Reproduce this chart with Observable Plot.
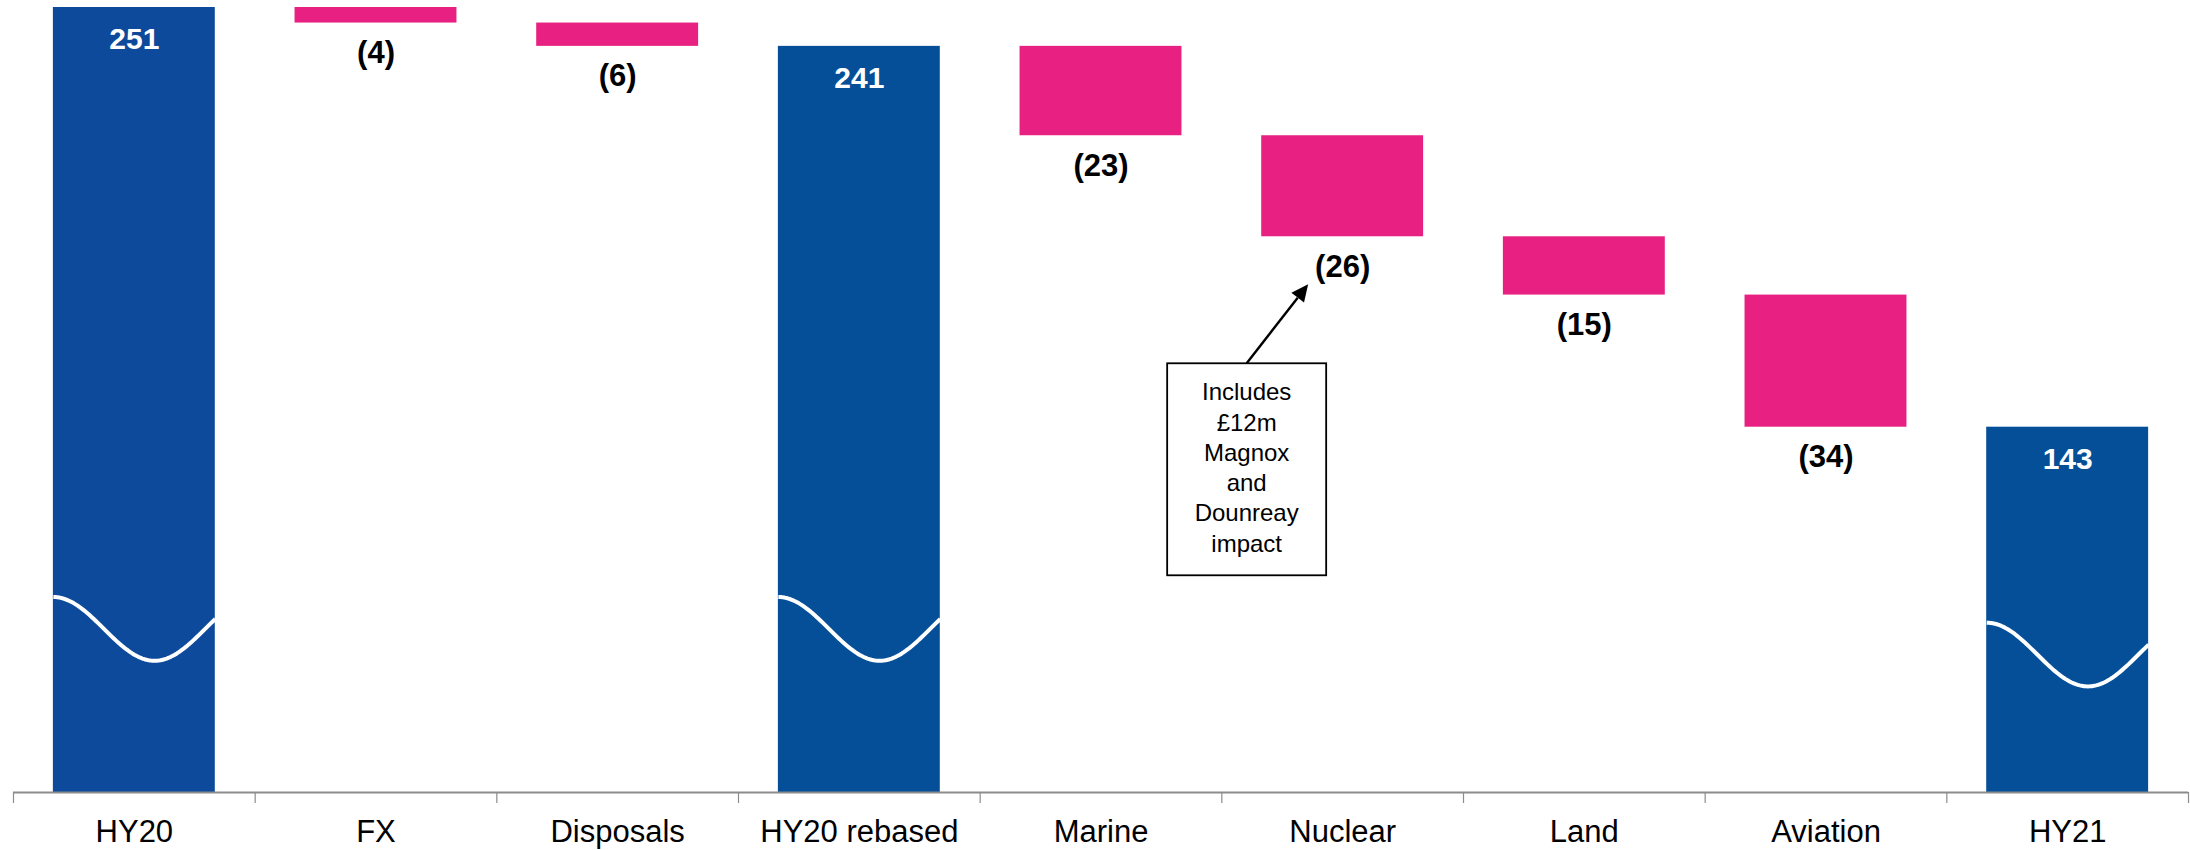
<!DOCTYPE html>
<html>
<head>
<meta charset="utf-8">
<script src="https://cdn.jsdelivr.net/npm/d3@7"></script>
<script src="https://cdn.jsdelivr.net/npm/@observablehq/plot@0.6"></script>
<style>
  html, body { margin: 0; padding: 0; background: #fff; overflow: hidden; }
  #chart svg { display: block; }
</style>
</head>
<body>
<div id="chart"></div>
<script>
// ---- Data ----
const categories = ["HY20", "FX", "Disposals", "HY20 rebased", "Marine", "Nuclear", "Land", "Aviation", "HY21"];
const changes = [251, -4, -6, 241, -23, -26, -15, -34, 143];
const isTotal = [true, false, false, true, false, false, false, false, true];
const valueLabels = ["251", "(4)", "(6)", "241", "(23)", "(26)", "(15)", "(34)", "143"];
// broken axis: the value axis starts above zero
const axisFloor = 49;
const axisTop = 251;
// break marks (wavy lines) on total bars, at these value levels
const breakCategories = ["HY20", "HY20 rebased", "HY21"];
const breakLevels = [91.1, 91.1, 84.5];
const breakAmplitude = 8.2;
// annotation
const noteCategory = "Nuclear";
const noteLines = ["Includes", "£12m", "Magnox", "and", "Dounreay", "impact"];

// ---- Build waterfall table ----
let running = 0;
const bars = categories.map((c, i) => {
  let lo, hi;
  if (isTotal[i]) { running = changes[i]; lo = axisFloor; hi = changes[i]; }
  else { hi = running; running += changes[i]; lo = running; }
  return {i, category: c, lo, hi, total: isTotal[i], label: valueLabels[i]};
});

const BAR_HALF = 0.335;
const WAVE_PHASE = 1.6 * Math.PI;
const wave = [];
breakCategories.forEach((c, k) => {
  const i = categories.indexOf(c);
  const n = 80;
  for (let j = 0; j <= n; j++) {
    const t = j / n;
    wave.push({cat: c, x: i - BAR_HALF + 2 * BAR_HALF * t, y: breakLevels[k] + breakAmplitude * Math.cos(WAVE_PHASE * t)});
  }
});

const boundaries = d3.range(categories.length + 1).map(k => k - 0.5);

function noteMark(index, scales, values, dimensions, context) {
  if (!scales || typeof scales.x !== "function") return null;
  const k = categories.indexOf(noteCategory);
  const b = bars[k];
  const cx = scales.x(k), by = scales.y(b.lo);
  const g = d3.create("svg:g");
  const boxL = cx - 175, boxR = cx - 16, boxT = by + 127, boxB = by + 339;
  g.append("rect")
    .attr("x", boxL).attr("y", boxT)
    .attr("width", boxR - boxL).attr("height", boxB - boxT)
    .attr("fill", "white").attr("stroke", "black").attr("stroke-width", 1.8);
  const tx = (boxL + boxR) / 2;
  const text = g.append("text")
    .attr("text-anchor", "middle").attr("font-size", 24).attr("fill", "black");
  noteLines.forEach((l, j) => text.append("tspan").attr("x", tx).attr("y", boxT + 37 + j * 30.3).text(l));
  // arrow
  const x0 = tx, y0 = boxT, x1 = cx - 34, y1 = by + 48;
  const dx = x1 - x0, dy = y1 - y0, len = Math.hypot(dx, dy);
  const ux = dx / len, uy = dy / len;
  const head = 17, hw = 8;
  const bx = x1 - ux * head, byy = y1 - uy * head;
  g.append("line").attr("x1", x0).attr("y1", y0).attr("x2", bx).attr("y2", byy)
    .attr("stroke", "black").attr("stroke-width", 2.4);
  g.append("polygon")
    .attr("points", [[x1, y1], [bx - uy * hw, byy + ux * hw], [bx + uy * hw, byy - ux * hw]].map(p => p.join(",")).join(" "))
    .attr("fill", "black");
  return g.node();
}

const font = "'Liberation Sans', Arial, Helvetica, sans-serif";

const chart = Plot.plot({
  width: 2190,
  height: 850,
  marginTop: 7,
  marginBottom: 58,
  marginLeft: 13,
  marginRight: 2,
  x: {type: "linear", domain: [-0.5, categories.length - 0.5], axis: null},
  y: {domain: [axisFloor, axisTop], axis: null},
  style: {fontFamily: font, background: "#fff", overflow: "visible"},
  marks: [
    Plot.rect(bars.filter(d => d.total && d.i === 0), {x1: d => d.i - BAR_HALF, x2: d => d.i + BAR_HALF, y1: "lo", y2: "hi", fill: "#0d4a9c"}),
    Plot.rect(bars.filter(d => d.total && d.i !== 0), {x1: d => d.i - BAR_HALF, x2: d => d.i + BAR_HALF, y1: "lo", y2: "hi", fill: "#054f98"}),
    Plot.rect(bars.filter(d => !d.total), {x1: d => d.i - BAR_HALF, x2: d => d.i + BAR_HALF, y1: "lo", y2: "hi", fill: "#e82082"}),
    Plot.line(wave, {x: "x", y: "y", z: "cat", stroke: "white", strokeWidth: 4, strokeLinecap: "butt", curve: "linear"}),
    Plot.text(bars.filter(d => d.total), {x: "i", y: "hi", text: "label", fill: "white", fontWeight: "bold", fontSize: 30, lineAnchor: "top", dy: 20}),
    Plot.text(bars.filter(d => !d.total), {x: "i", y: "lo", text: "label", fill: "black", fontWeight: "bold", fontSize: 31, lineAnchor: "top", dy: 18}),
    Plot.ruleY([axisFloor], {stroke: "#8c8c8c", strokeWidth: 2}),
    Plot.ruleX(boundaries, {x: d => d, y1: axisFloor, y2: axisFloor, insetBottom: -11, stroke: "#8c8c8c", strokeWidth: 1.2}),
    Plot.text(categories, {x: (d, i) => i, y: () => axisFloor, text: d => d, fill: "black", fontSize: 31, lineAnchor: "top", dy: 27}),
    noteMark
  ]
});

document.getElementById("chart").appendChild(chart);
</script>
</body>
</html>
